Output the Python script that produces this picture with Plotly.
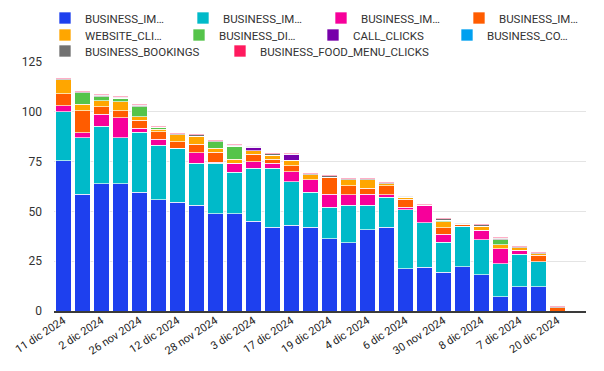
import plotly.graph_objects as go

# Category (date) labels shown on the axis (every other bar is labelled)
tick_labels = ["11 dic 2024", "2 dic 2024", "26 nov 2024", "12 dic 2024", "28 nov 2024",
               "3 dic 2024", "17 dic 2024", "19 dic 2024", "4 dic 2024", "6 dic 2024",
               "30 nov 2024", "8 dic 2024", "7 dic 2024", "20 dic 2024"]
n_bars = 28
x_idx = list(range(n_bars))

# Series values (bottom to top of each stack), one entry per bar
business_im_1 = [75.5, 58.7, 63.8, 63.8, 59.7, 55.8, 54.7, 53.0, 48.8, 48.8, 45.0, 42.0, 43.0, 42.0,
                 36.3, 34.2, 40.8, 42.0, 21.2, 22.0, 19.4, 22.3, 18.2, 7.1, 12.2, 12.2, 0, 0]
business_im_2 = [24.5, 28.3, 29.0, 23.2, 30.0, 27.5, 27.0, 21.2, 25.4, 20.9, 26.7, 29.7, 22.0, 17.7,
                 15.7, 18.8, 12.2, 15.2, 29.6, 22.2, 15.2, 20.3, 17.6, 16.5, 16.2, 12.6, 0, 0]
business_im_3 = [3.0, 2.5, 5.9, 10.0, 2.0, 2.9, 0, 5.3, 0.5, 4.5, 3.3, 2.5, 5.0, 6.1,
                 6.7, 5.3, 5.7, 1.1, 1.2, 8.8, 3.9, 0, 4.7, 7.7, 2.0, 0, 0, 0]
business_im_4 = [6.0, 11.0, 3.8, 3.5, 4.1, 3.8, 3.3, 4.3, 5.0, 0, 3.8, 2.0, 2.8, 0,
                 8.5, 4.7, 3.0, 4.5, 4.2, 0, 3.2, 1.0, 0, 0, 0, 3.1, 1.7, 0]
website_clicks = [7.0, 3.2, 3.0, 4.5, 1.7, 1.2, 3.5, 4.0, 2.0, 2.0, 1.7, 2.1, 3.0, 2.5,
                  0, 2.8, 4.1, 1.0, 0.8, 0, 3.1, 0, 2.1, 2.0, 1.4, 0.8, 0, 0]
business_direction = [0, 5.8, 2.0, 1.7, 5.0, 1.0, 0, 0, 3.3, 6.5, 0, 0, 0, 0,
                      0, 0, 0, 0, 0, 0, 0.8, 0, 0, 2.5, 0, 0, 0, 0]
call_clicks = [0, 0, 0, 0, 0, 0, 0, 0, 0, 0, 1.7, 0, 2.9, 0,
               0, 0, 0, 0, 0, 0, 0, 0, 0, 0, 0, 0, 0, 0]
business_conversations = [0] * n_bars
business_bookings = [0.5, 0.5, 0.8, 0.7, 0.8, 0.4, 0.6, 0.6, 0.5, 0.6, 0.4, 0.6, 0.3, 0.6,
                     0.6, 0.6, 0.6, 0.6, 0.5, 0.4, 0.8, 0.4, 0.6, 0.8, 0.4, 0.6, 0.4, 0]
business_food_menu = [0.3, 0.3, 0.5, 0.4, 0.4, 0.2, 0.4, 0.4, 0.3, 0.4, 0.2, 0.3, 0.2, 0.3,
                      0.4, 0.3, 0.3, 0.3, 0.3, 0.3, 0.4, 0.3, 0.4, 0.4, 0.2, 0.3, 0.3, 0]

series = [
    ("BUSINESS_IM…", business_im_1, "#1E40EE", "legend"),
    ("BUSINESS_IM…", business_im_2, "#00BAC9", "legend"),
    ("BUSINESS_IM…", business_im_3, "#F7009A", "legend"),
    ("BUSINESS_IM…", business_im_4, "#FF5C00", "legend"),
    ("WEBSITE_CLI…", website_clicks, "#FFA600", "legend2"),
    ("BUSINESS_DI…", business_direction, "#55C44A", "legend2"),
    ("CALL_CLICKS", call_clicks, "#7600AA", "legend2"),
    ("BUSINESS_CO…", business_conversations, "#00A0F0", "legend2"),
    ("BUSINESS_BOOKINGS", business_bookings, "#727272", "legend3"),
    ("BUSINESS_FOOD_MENU_CLICKS", business_food_menu, "#FF1A5E", "legend4"),
]

fig = go.Figure()
for name, vals, color, lg in series:
    fig.add_trace(go.Bar(
        x=x_idx, y=vals, name=name, legend=lg,
        marker=dict(color=color, line=dict(color="rgba(255,255,255,0.65)", width=1)),
    ))

# figure is drawn inside the page's 8px body margin
W, H = 596, 363
ML, MR, MT, MB = 46, 18, 54, 60
PW, PH = W - ML - MR, H - MT - MB


def px_x(cx):
    return (cx - ML) / PW


def px_y(cy):
    return 1 + (MT - cy) / PH


leg_common = dict(orientation="h", xref="paper", yref="paper",
                  xanchor="left", yanchor="middle",
                  font=dict(family="Roboto", size=11.5, color="#333333"),
                  bgcolor="rgba(0,0,0,0)", borderwidth=0, itemclick=False, traceorder="normal")

fig.update_layout(
    width=W, height=H,
    barmode="stack", bargap=0.18,
    plot_bgcolor="white", paper_bgcolor="white",
    font=dict(family="Roboto, sans-serif", size=12, color="#333333"),
    margin=dict(l=ML, r=MR, t=MT, b=MB, autoexpand=False),
    showlegend=True,
    legend=dict(x=px_x(37), y=px_y(10), entrywidth=93, **leg_common),
    legend2=dict(x=px_x(37), y=px_y(27), entrywidth=89, **leg_common),
    legend3=dict(x=px_x(37), y=px_y(43), **leg_common),
    legend4=dict(x=px_x(212), y=px_y(43), **leg_common),
    xaxis=dict(
        range=[-0.5, n_bars - 0.5],
        tickmode="array",
        tickvals=x_idx[0:n_bars:2][:len(tick_labels)],
        ticktext=tick_labels,
        tickangle=-33,
        tickfont=dict(family="Roboto", size=11, color="#222222"),
        showgrid=False, zeroline=False,
        showline=True, linecolor="#3a3a3a", linewidth=2,
        ticks="",
        ticklabelstandoff=-3,
    ),
    yaxis=dict(
        range=[0, 125],
        tickvals=[0, 25, 50, 75, 100, 125],
        tickfont=dict(family="Roboto", size=12, color="#333333"),
        showgrid=True, gridcolor="#E4E4E4", gridwidth=1,
        zeroline=False, showline=False,
        ticklabelstandoff=11,
    ),
)

fig.write_html("out.html")
